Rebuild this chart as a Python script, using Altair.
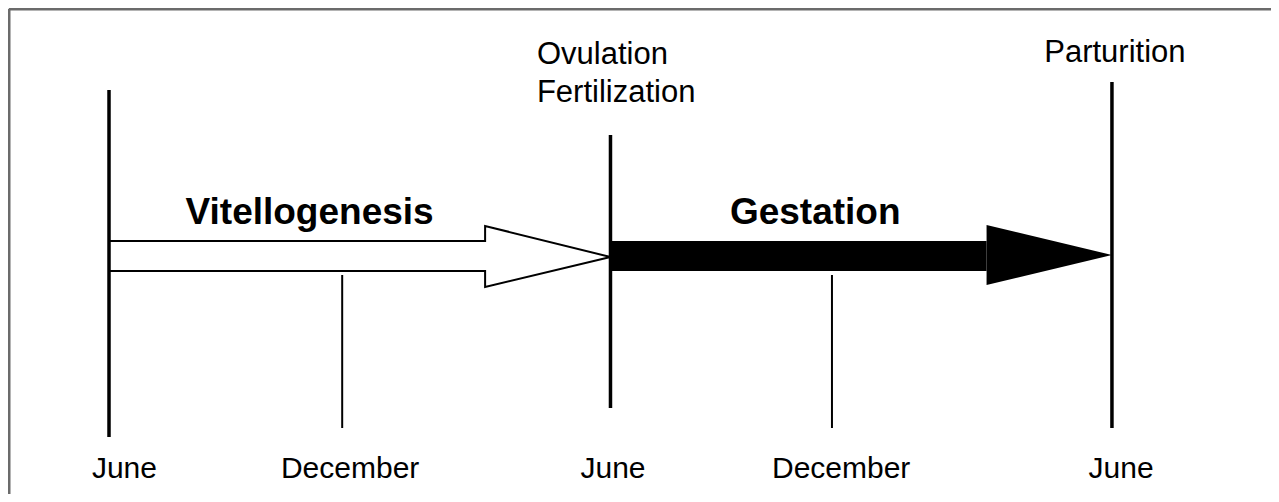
import altair as alt
import pandas as pd

# --- timeline data (x in months from the first June; y in diagram units, 0 = top) ---
june_months = [0, 12, 24]
june_tops = [82, 127, 74]
june_bottoms = [429, 400, 420]

dec_months = [5.58, 17.3]
dec_tops = [267, 267]
dec_bottoms = [420, 420]

bottom_labels = ["June", "December", "June", "December", "June"]
bottom_label_months = [0.37, 5.77, 12.06, 17.52, 24.22]

phase_names = ["Vitellogenesis", "Gestation"]
phase_label_months = [4.8, 16.9]

# white (open) arrow outline, traced point by point
white_arrow_x = [0, 9, 9, 12, 9, 9, 0]
white_arrow_y = [233, 233, 218, 249, 279, 263, 263]

# black (filled) arrow: body, then head narrowing to the tip
black_body_x = [12, 21]
black_body_top = [233]
black_body_bottom = [263]
black_head_x = [21, 24]
black_head_top = [217, 247]
black_head_bottom = [277, 247]

event_labels = ["Ovulation", "Fertilization"]
event_label_tops = [56, 94]
event_label_month = 10.24

end_label = "Parturition"
end_label_month = 24.07

FONT = "Liberation Sans"
W, H = 1263, 486
xs = alt.Scale(domain=[-2.417, 27.806], nice=False, zero=False)
ys = alt.Scale(domain=[0, H], reverse=True, nice=False, zero=False)


def X(field="x"):
    return alt.X(f"{field}:Q", scale=xs, axis=None)


def Y(field="y"):
    return alt.Y(f"{field}:Q", scale=ys, axis=None, stack=None)


white_df = pd.DataFrame({"o": range(len(white_arrow_x)), "x": white_arrow_x, "y": white_arrow_y})
white_arrow = alt.Chart(white_df).mark_line(
    color="black", strokeWidth=2, interpolate="linear", strokeJoin="miter"
).encode(x=X(), y=Y(), order="o:Q")

body_df = pd.DataFrame({"x": [black_body_x[0]], "x2": [black_body_x[1]],
                        "y": black_body_top, "y2": black_body_bottom})
black_body = alt.Chart(body_df).mark_rect(color="black").encode(
    x=X(), x2="x2:Q", y=Y(), y2="y2:Q"
)

head_df = pd.DataFrame({"x": black_head_x, "y": black_head_top, "y2": black_head_bottom})
black_head = alt.Chart(head_df).mark_area(
    color="black", interpolate="linear", orient="vertical"
).encode(x=X(), y=Y(), y2="y2:Q")

june_df = pd.DataFrame({"x": june_months, "y": june_tops, "y2": june_bottoms})
june_lines = alt.Chart(june_df).mark_rule(color="black", strokeWidth=3.5).encode(
    x=X(), y=Y(), y2="y2:Q"
)

dec_df = pd.DataFrame({"x": dec_months, "y": dec_tops, "y2": dec_bottoms})
dec_lines = alt.Chart(dec_df).mark_rule(color="black", strokeWidth=2).encode(
    x=X(), y=Y(), y2="y2:Q"
)

border_df = pd.DataFrame({"x": [-2.393], "x2": [27.806], "y": [1.0], "y2": [H]})
border_top = alt.Chart(border_df).mark_rule(color="#6b6b6b", strokeWidth=3).encode(
    x=X(), x2="x2:Q", y=Y()
)
border_left = alt.Chart(border_df).mark_rule(color="#6b6b6b", strokeWidth=3).encode(
    x=X(), y=Y(), y2="y2:Q"
)

bottom_df = pd.DataFrame({"x": bottom_label_months, "t": bottom_labels, "y": [470] * 5})
bottom_text = alt.Chart(bottom_df).mark_text(
    font=FONT, fontSize=30, align="center", baseline="alphabetic", color="black"
).encode(x=X(), y=Y(), text="t:N")

phase_df = pd.DataFrame({"x": phase_label_months, "t": phase_names, "y": [216, 216]})
phase_text = alt.Chart(phase_df).mark_text(
    font=FONT, fontSize=37, fontWeight="bold", align="center", baseline="alphabetic", color="black"
).encode(x=X(), y=Y(), text="t:N")

event_df = pd.DataFrame({"x": [event_label_month] * 2, "t": event_labels, "y": event_label_tops})
event_text = alt.Chart(event_df).mark_text(
    font=FONT, fontSize=31, align="left", baseline="alphabetic", color="black"
).encode(x=X(), y=Y(), text="t:N")

end_df = pd.DataFrame({"x": [end_label_month], "t": [end_label], "y": [54]})
end_text = alt.Chart(end_df).mark_text(
    font=FONT, fontSize=31, align="center", baseline="alphabetic", color="black"
).encode(x=X(), y=Y(), text="t:N")

chart = alt.layer(
    border_top, border_left, white_arrow, black_body, black_head, june_lines, dec_lines,
    bottom_text, phase_text, event_text, end_text
).properties(
    width=W, height=H, autosize=alt.AutoSizeParams(type="none"), padding=0
).configure_view(stroke=None).configure(background="white")

chart.save("out.html", embed_options={"renderer": "svg", "actions": False})
